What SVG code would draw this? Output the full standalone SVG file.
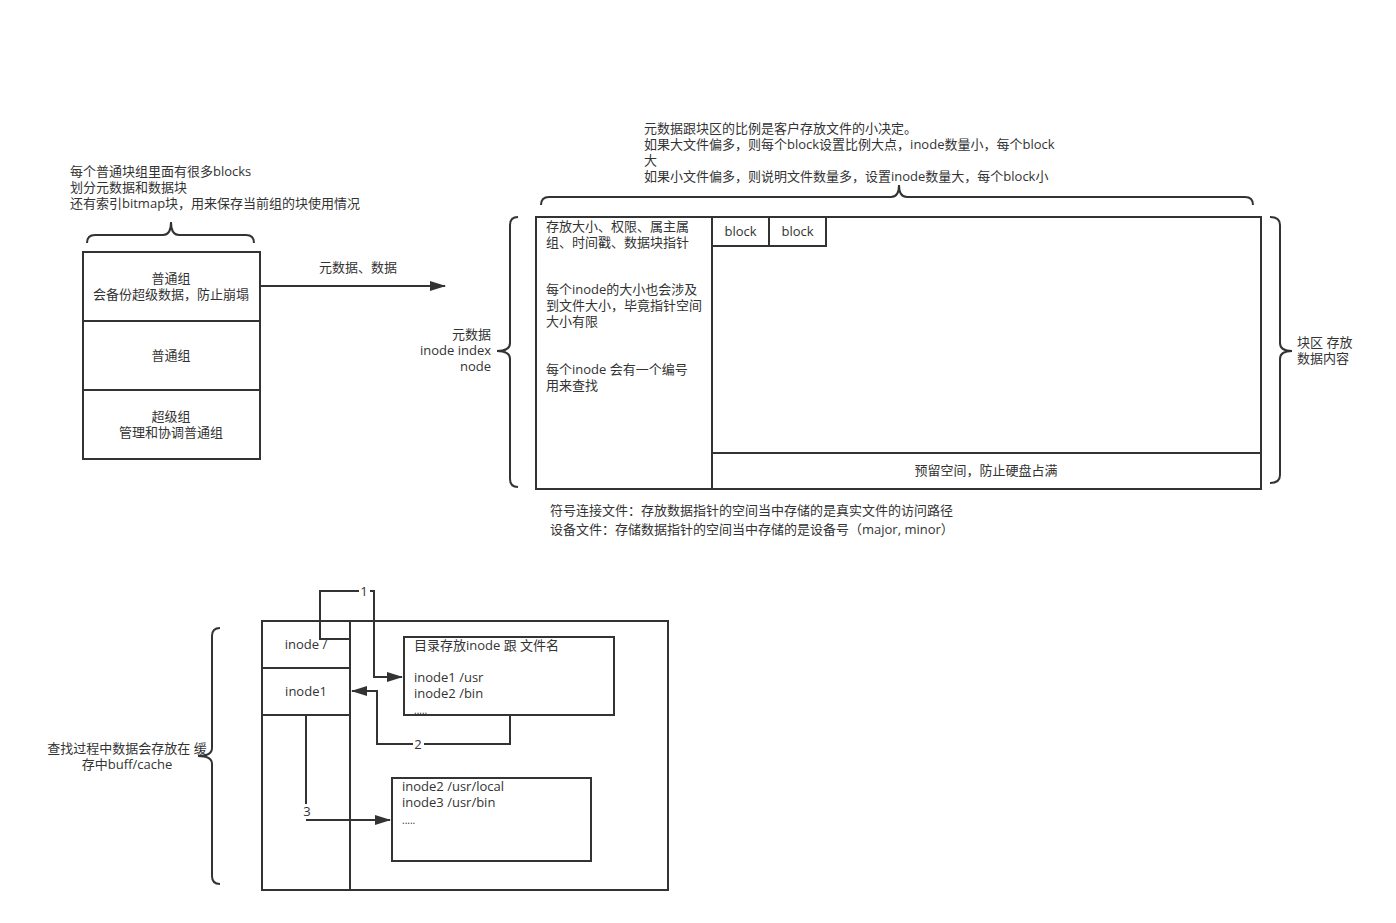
<svg xmlns="http://www.w3.org/2000/svg" width="1396" height="923" viewBox="0 0 1396 923">
<defs>
<style>
text{font-family:"Open Sans","Noto Sans CJK SC",sans-serif;font-size:13px;fill:#333}
.c{text-anchor:middle}
.r{text-anchor:end}
.b{fill:#fff;stroke:#333;stroke-width:2}
.l{fill:none;stroke:#333;stroke-width:2}
</style>
<marker id="ah" markerWidth="16" markerHeight="10" refX="15" refY="5" orient="auto" markerUnits="userSpaceOnUse">
<path d="M0,0 L16,5 L0,10 Z" fill="#333"/>
</marker>
</defs>
<rect width="1396" height="923" fill="#fff"/>

<g id="groups-note">
<text x="70" y="176">每个普通块组里面有很多blocks</text>
<text x="70" y="192">划分元数据和数据块</text>
<text x="70" y="208">还有索引bitmap块，用来保存当前组的块使用情况</text>
<path class="l" d="M87,243 Q87,235 95,235 L163,235 Q171,235 171,222 Q171,235 179,235 L246,235 Q254,235 254,243"/>
</g>

<g id="group-normal1">
<rect class="b" x="83" y="252" width="177" height="69"/>
<text class="c" x="171" y="283">普通组</text>
<text class="c" x="171" y="299">会备份超级数据，防止崩塌</text>
</g>
<g id="group-normal2">
<rect class="b" x="83" y="321" width="177" height="69"/>
<text class="c" x="171" y="360">普通组</text>
</g>
<g id="group-super">
<rect class="b" x="83" y="390" width="177" height="69"/>
<text class="c" x="171" y="421">超级组</text>
<text class="c" x="171" y="437">管理和协调普通组</text>
</g>

<g id="ratio-note">
<text x="644" y="133">元数据跟块区的比例是客户存放文件的小决定。</text>
<text x="644" y="149">如果大文件偏多，则每个block设置比例大点，inode数量小，每个block</text>
<text x="644" y="165">大</text>
<text x="644" y="181">如果小文件偏多，则说明文件数量多，设置inode数量大，每个block小</text>
<path class="l" d="M541,205 Q541,197 549,197 L891,197 Q899,197 899,185 Q899,197 907,197 L1245,197 Q1253,197 1253,205"/>
</g>

<g id="meta-label">
<text class="r" x="491" y="339">元数据</text>
<text class="r" x="491" y="355">inode index</text>
<text class="r" x="491" y="371">node</text>
<path class="l" d="M518,217 Q510,217 510,225 L510,343 Q510,351 497,351 Q510,351 510,359 L510,479 Q510,487 518,487"/>
</g>

<g id="inode-area">
<rect class="b" x="536" y="217" width="176" height="272"/>
<text x="546" y="231">存放大小、权限、属主属</text>
<text x="546" y="247">组、时间戳、数据块指针</text>
<text x="546" y="294">每个inode的大小也会涉及</text>
<text x="546" y="310">到文件大小，毕竟指针空间</text>
<text x="546" y="326">大小有限</text>
<text x="546" y="374">每个inode 会有一个编号</text>
<text x="546" y="390">用来查找</text>
</g>

<g id="block-area">
<rect class="b" x="712" y="217" width="549" height="236"/>
</g>
<g id="block1">
<rect class="b" x="712" y="217" width="57" height="29"/>
<text class="c" x="740.5" y="236">block</text>
</g>
<g id="block2">
<rect class="b" x="769" y="217" width="57" height="29"/>
<text class="c" x="797.5" y="236">block</text>
</g>
<g id="reserved">
<rect class="b" x="712" y="453" width="549" height="36"/>
<text class="c" x="986" y="475">预留空间，防止硬盘占满</text>
</g>

<g id="block-label">
<path class="l" d="M1270,217 Q1280,217 1280,225 L1280,343 Q1280,351 1292,351 Q1280,351 1280,359 L1280,475 Q1280,483 1270,483"/>
<text x="1297" y="347">块区 存放</text>
<text x="1297" y="363">数据内容</text>
</g>

<g id="file-notes">
<text x="550" y="515">符号连接文件：存放数据指针的空间当中存储的是真实文件的访问路径</text>
<text x="550" y="534">设备文件：存储数据指针的空间当中存储的是设备号（major, minor）</text>
</g>

<g id="cache-label">
<text class="c" x="127" y="753">查找过程中数据会存放在 缓</text>
<text class="c" x="127" y="769">存中buff/cache</text>
<path class="l" d="M220,628 Q212,628 212,636 L212,748 Q212,756 198,756 Q212,756 212,764 L212,876 Q212,884 220,884"/>
</g>

<g id="lookup-area">
<rect class="b" x="262" y="621" width="406" height="269"/>
<line class="l" x1="350" y1="621" x2="350" y2="890"/>
</g>
<g id="inode-root">
<rect class="b" x="262" y="621" width="88" height="47"/>
<text class="c" x="306" y="649">inode /</text>
</g>
<g id="inode1">
<rect class="b" x="262" y="668" width="88" height="47"/>
<text class="c" x="306" y="696">inode1</text>
</g>
<g id="dir-root">
<rect class="b" x="404" y="637" width="210" height="78"/>
<text x="414" y="650">目录存放inode 跟 文件名</text>
<text x="414" y="682">inode1 /usr</text>
<text x="414" y="698">inode2 /bin</text>
<text x="414" y="714" style="font-size:10px">.....</text>
</g>
<g id="dir-usr">
<rect class="b" x="392" y="778" width="199" height="83"/>
<text x="402" y="791">inode2 /usr/local</text>
<text x="402" y="807">inode3 /usr/bin</text>
<text x="402" y="824" style="font-size:10px">.....</text>
</g>

<g id="connectors">
<path class="l" d="M350,639 L320,639 L320,591 L374,591 L374,677 L402,677" marker-end="url(#ah)"/>
<rect x="359" y="584" width="11" height="14" fill="#fff"/>
<text class="c" x="364" y="596">1</text>
<path class="l" d="M510,715 L510,744 L377,744 L377,691 L352,691" marker-end="url(#ah)"/>
<rect x="413" y="737" width="11" height="14" fill="#fff"/>
<text class="c" x="418" y="749">2</text>
<path class="l" d="M306,715 L306,804"/>
<path class="l" d="M306,820 L390,820" marker-end="url(#ah)"/>
<text class="c" x="307" y="816">3</text>
<path class="l" d="M260,286 L445,286" marker-end="url(#ah)"/>
<text class="c" x="358" y="272">元数据、数据</text>
</g>
</svg>
